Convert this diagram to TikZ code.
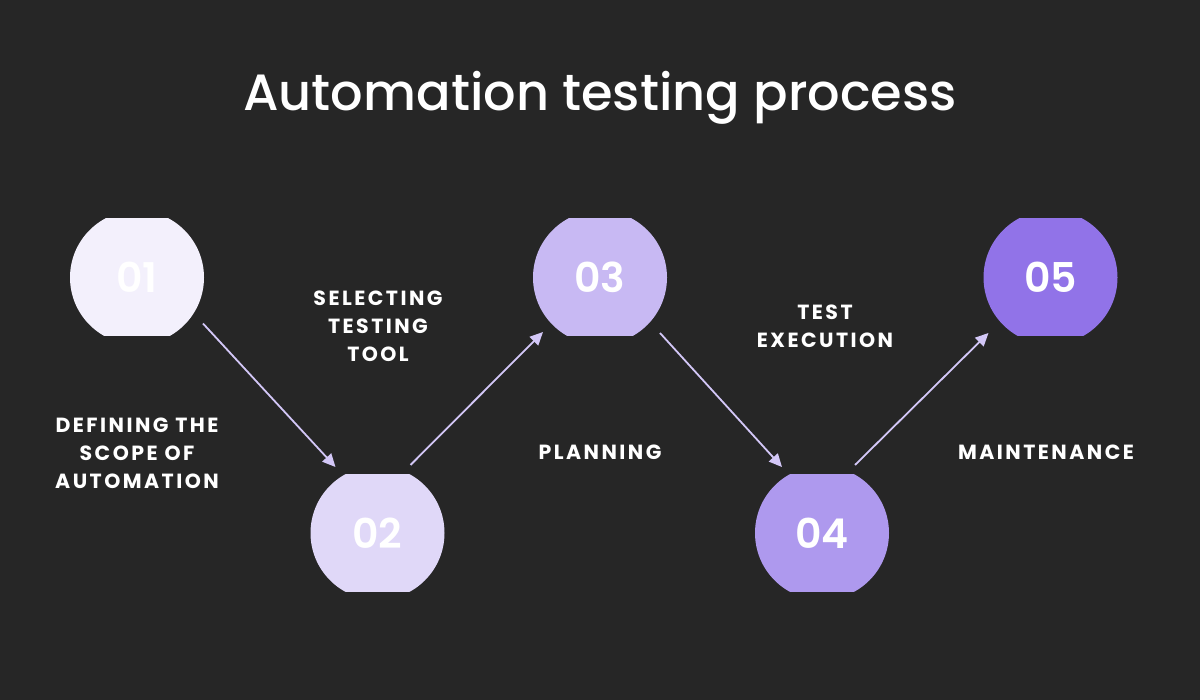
\documentclass[tikz,border=0pt]{standalone}
\usepackage{fontspec}
\setmainfont{Poppins}
\IfFontExistsTF{Poppins Medium}{\newfontfamily\titlefont{Poppins Medium}}{\newfontfamily\titlefont{Poppins}}
\IfFontExistsTF{Poppins SemiBold}{\newfontfamily\numfont{Poppins SemiBold}}{\newfontfamily\numfont{Poppins}[FakeBold=1.5]}
\newfontfamily\lblfont{Poppins}[LetterSpace=12]
\usetikzlibrary{calc,arrows.meta}
\definecolor{bg}{HTML}{262626}
\definecolor{cA}{HTML}{F3F0FC}
\definecolor{cB}{HTML}{E0D8F8}
\definecolor{cC}{HTML}{C8B9F3}
\definecolor{cD}{HTML}{AE99EE}
\definecolor{cE}{HTML}{9173E8}
\definecolor{arr}{HTML}{D3C7F7}
\tikzset{
  stepcirc/.style={circle, minimum size=134pt, inner sep=0pt, text=white,
    font=\numfont\fontsize{41}{41}\selectfont,
    path picture={\fill[#1] ($(path picture bounding box.center)+(-70,-59)$) rectangle ($(path picture bounding box.center)+(70,59)$);}},
  lbl/.style={text=white, align=center, font=\lblfont\fontsize{20.5}{28}\selectfont\bfseries},
  conn/.style={arr, line width=1.8pt, -{Triangle[length=13pt,width=12pt]}}
}
\begin{document}
\begin{tikzpicture}[x=1pt,y=-1pt]
\fill[bg] (0,0) rectangle (1200,700);
\useasboundingbox (0,0) rectangle (1200,700);
\node[text=white, font=\titlefont\fontsize{51}{51}\selectfont] (title) at (600,98) {Automation testing process};
\node[stepcirc=cA] (c1) at (137,277.5) {01};
\node[stepcirc=cB] (c2) at (377.5,533) {02};
\node[stepcirc=cC] (c3) at (600,277.5) {03};
\node[stepcirc=cD] (c4) at (822,533) {04};
\node[stepcirc=cE] (c5) at (1050.5,277.5) {05};
\coordinate (a1s) at ($(c1)+(66,46)$);
\coordinate (a1e) at ($(c2)+(-42,-66)$);
\coordinate (a2s) at ($(c2)+(33,-68)$);
\coordinate (a2e) at ($(c3)+(-57,54.5)$);
\coordinate (a3s) at ($(c3)+(60,55.5)$);
\coordinate (a3e) at ($(c4)+(-40,-66)$);
\coordinate (a4s) at ($(c4)+(33,-68)$);
\coordinate (a4e) at ($(c5)+(-62,55.5)$);
\draw[conn] (a1s) -- (a1e);
\draw[conn] (a2s) -- (a2e);
\draw[conn] (a3s) -- (a3e);
\draw[conn] (a4s) -- (a4e);
\node[lbl] (l1) at (137,453) {DEFINING THE\\SCOPE OF\\AUTOMATION};
\node[lbl] (l2) at (378,326) {SELECTING\\TESTING\\TOOL};
\node[lbl] (l3) at (600,452) {PLANNING};
\node[lbl] (l4) at (825,326) {TEST\\EXECUTION};
\node[lbl] (l5) at (1046,452) {MAINTENANCE};
\end{tikzpicture}
\end{document}
